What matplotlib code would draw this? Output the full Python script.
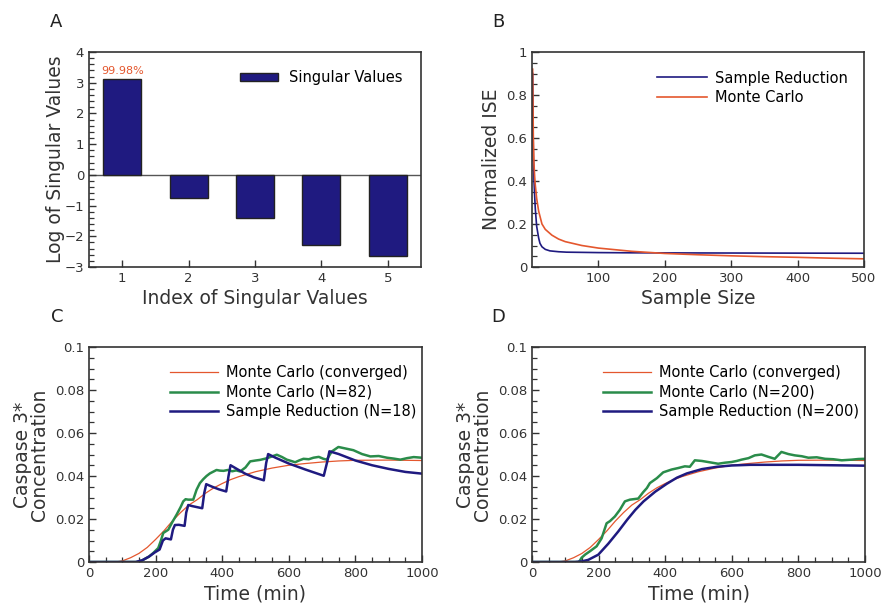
import matplotlib
matplotlib.use("Agg")
import matplotlib.pyplot as plt
from matplotlib.ticker import MultipleLocator, FixedLocator

plt.rcParams['font.family'] = ['DejaVu Sans']

NAVY = '#1f1a80'
ORANGE = '#e4572e'
GREEN = '#2a8c4a'
INK = '#333333'

# ---- Panel A: singular values ----
sv_index = [1, 2, 3, 4, 5]
sv_log = [3.13, -0.74, -1.42, -2.27, -2.63]
sv_note = '99.98%'

# ---- Panel B: normalized ISE vs sample size ----
sr_n = [1, 2, 3, 4, 5, 7, 10, 12, 15, 20, 27, 40, 52, 100, 150, 300, 500]
sr_ise = [0.90, 0.52, 0.40, 0.33, 0.27, 0.19, 0.135, 0.11, 0.094, 0.082, 0.075,
          0.071, 0.069, 0.067, 0.066, 0.065, 0.064]
mc_n = [1, 2, 3, 4, 5, 7, 10, 15, 20, 30, 40, 50, 75, 100, 150, 200, 250, 300,
        350, 400, 450, 500]
mc_ise = [0.92, 0.60, 0.48, 0.42, 0.38, 0.32, 0.26, 0.20, 0.175, 0.148, 0.13,
          0.118, 0.10, 0.088, 0.073, 0.063, 0.057, 0.052, 0.048, 0.045, 0.041, 0.038]

# ---- Panels C/D: caspase 3* concentration vs time ----
conv_t = [0, 80, 100, 125, 150, 175, 200, 225, 250, 275, 300, 325, 350, 375, 400,
          425, 450, 500, 550, 600, 650, 700, 750, 800, 900, 1000]
conv_c = [0, 0, 0.0005, 0.002, 0.004, 0.0068, 0.0105, 0.0145, 0.019, 0.023, 0.0265,
          0.029, 0.032, 0.0345, 0.0365, 0.0383, 0.0397, 0.042, 0.0437, 0.045, 0.0458,
          0.0465, 0.047, 0.0473, 0.0474, 0.0472]

mc82_t = [0, 143, 160, 180, 193, 208, 216, 223, 238, 250, 263, 275, 283, 290, 298,
          313, 323, 333, 343, 353, 363, 373, 383, 393, 404, 417, 430, 442, 454, 470,
          484, 500, 514, 530, 544, 564, 580, 594, 607, 619, 632, 644, 660, 674, 690,
          704, 714, 729, 749, 770, 794, 820, 845, 870, 895, 915, 935, 955, 975, 1000]
mc82_c = [0, 0, 0.0008, 0.0025, 0.0042, 0.0065, 0.0100, 0.0135, 0.015, 0.0185, 0.022,
          0.0255, 0.0282, 0.0292, 0.029, 0.029, 0.0336, 0.0367, 0.0385, 0.040, 0.0412,
          0.042, 0.0428, 0.0425, 0.0424, 0.0428, 0.0422, 0.0426, 0.0421, 0.044,
          0.0468, 0.0472, 0.0475, 0.0481, 0.0488, 0.0499, 0.0488, 0.0476, 0.047, 0.0464,
          0.0473, 0.048, 0.0478, 0.0485, 0.0489, 0.048, 0.0476, 0.0514, 0.0535, 0.0528,
          0.052, 0.0502, 0.0491, 0.0493, 0.0485, 0.0481, 0.0476, 0.0483, 0.0488, 0.0485]

sr18_t = [0, 140, 160, 180, 198, 212, 222, 230, 246, 252, 258, 270, 287, 292, 298,
          310, 340, 346, 352, 370, 390, 412, 419, 425, 445, 470, 495, 525, 532, 538,
          560, 600, 650, 705, 716, 722, 750, 800, 850, 900, 950, 1000]
sr18_c = [0, 0, 0.0008, 0.0025, 0.0045, 0.0058, 0.0100, 0.0110, 0.0105, 0.0150,
          0.0172, 0.0173, 0.0168, 0.0230, 0.0265, 0.0260, 0.0250, 0.0320, 0.0362,
          0.0350, 0.0338, 0.0328, 0.0400, 0.0450, 0.0432, 0.0410, 0.0394, 0.0380,
          0.0460, 0.0502, 0.0485, 0.0458, 0.0430, 0.0401, 0.0470, 0.0515, 0.0502,
          0.0472, 0.0450, 0.0433, 0.0419, 0.0411]

mc200_t = [0, 140, 144, 149, 160, 174, 194, 209, 224, 234, 249, 264, 279, 294, 319,
           334, 345, 354, 375, 394, 419, 439, 459, 474, 489, 510, 529, 559, 580, 599,
           615, 629, 650, 669, 689, 710, 729, 749, 770, 789, 810, 830, 855, 880, 905,
           930, 960, 980, 1000]
mc200_c = [0, 0, 0.0007, 0.002, 0.0035, 0.005, 0.0073, 0.011, 0.018, 0.019, 0.0212,
           0.0243, 0.0282, 0.029, 0.0295, 0.0325, 0.0344, 0.0367, 0.039, 0.0417, 0.043,
           0.0437, 0.0445, 0.0443, 0.0473, 0.047, 0.0465, 0.0457, 0.0462, 0.0465,
           0.047, 0.0476, 0.0483, 0.0496, 0.050, 0.0489, 0.048, 0.0512, 0.0502, 0.0496,
           0.0492, 0.0485, 0.0487, 0.048, 0.0478, 0.0473, 0.0476, 0.0479, 0.048]

sr200_t = [0, 129, 150, 169, 199, 229, 259, 286, 310, 335, 370, 405, 435, 465, 510,
           556, 600, 656, 800, 1000]
sr200_c = [0, 0, 0.0003, 0.001, 0.0034, 0.0085, 0.0142, 0.0197, 0.0242, 0.0282,
           0.0327, 0.0364, 0.0392, 0.0412, 0.0432, 0.0443, 0.0449, 0.0452, 0.0452,
           0.0448]

TICK_FS = 9.5
LABEL_FS = 13.5
LEG_FS = 10.5

fig = plt.figure(figsize=(8.82, 6.08), dpi=100)
W, H = 882, 608


def add_axes(px_left, px_top, px_w, px_h):
    return fig.add_axes([px_left / W, 1 - (px_top + px_h) / H, px_w / W, px_h / H])


def style(ax):
    for s in ax.spines.values():
        s.set_color(INK)
        s.set_linewidth(1.2)
    ax.tick_params(which='both', direction='in', top=False, right=False,
                   colors=INK, labelcolor=INK, labelsize=TICK_FS, width=1.0)
    ax.tick_params(which='major', length=5)
    ax.tick_params(which='minor', length=3.5, width=0.9)


axA = add_axes(89, 52, 332, 215)
axB = add_axes(532, 52, 332, 215)
axC = add_axes(89, 347, 333, 215)
axD = add_axes(532, 347, 333, 215)

# Panel A
style(axA)
axA.axhline(0, color='#555555', lw=1.0, zorder=1)
axA.bar(sv_index, sv_log, width=0.57, color=NAVY, edgecolor='#222222',
        linewidth=1.0, zorder=2, label='Singular Values')
axA.text(sv_index[0], sv_log[0] + 0.1, sv_note, color=ORANGE, fontsize=8,
         ha='center', va='bottom')
axA.set_xlim(0.5, 5.5)
axA.set_ylim(-3, 4)
axA.xaxis.set_major_locator(FixedLocator(sv_index))
axA.yaxis.set_major_locator(MultipleLocator(1))
axA.yaxis.set_minor_locator(MultipleLocator(0.2))
axA.set_xlabel('Index of Singular Values', fontsize=LABEL_FS, color=INK, labelpad=3)
axA.set_ylabel('Log of Singular Values', fontsize=LABEL_FS, color=INK, labelpad=0)
axA.legend(loc='upper right', frameon=False, fontsize=LEG_FS, handlelength=2.6,
           handleheight=0.45, handletextpad=0.8, bbox_to_anchor=(0.985, 0.975))

# Panel B
style(axB)
axB.plot(sr_n, sr_ise, color=NAVY, lw=1.2, label='Sample Reduction')
axB.plot(mc_n, mc_ise, color=ORANGE, lw=1.2, label='Monte Carlo')
axB.set_xlim(0, 500)
axB.set_ylim(0, 1)
axB.xaxis.set_major_locator(FixedLocator([100, 200, 300, 400, 500]))
axB.yaxis.set_minor_locator(MultipleLocator(0.05))
axB.set_yticks([0, 0.2, 0.4, 0.6, 0.8, 1.0])
axB.set_yticklabels(['0', '0.2', '0.4', '0.6', '0.8', '1'])
axB.set_xlabel('Sample Size', fontsize=LABEL_FS, color=INK, labelpad=3)
axB.set_ylabel('Normalized ISE', fontsize=LABEL_FS, color=INK, labelpad=4)
axB.legend(loc='upper right', frameon=False, fontsize=LEG_FS, handlelength=3.4,
           handletextpad=0.55, labelspacing=0.3, bbox_to_anchor=(0.99, 0.975))


def caspase_axes(ax, series):
    style(ax)
    for t, c, col, lw, lab in series:
        ax.plot(t, c, color=col, lw=lw, label=lab)
    ax.set_xlim(0, 1000)
    ax.set_ylim(0, 0.1)
    ax.xaxis.set_major_locator(MultipleLocator(200))
    ax.xaxis.set_minor_locator(MultipleLocator(50))
    ax.yaxis.set_minor_locator(MultipleLocator(0.005))
    ax.set_yticks([0, 0.02, 0.04, 0.06, 0.08, 0.1])
    ax.set_yticklabels(['0', '0.02', '0.04', '0.06', '0.08', '0.1'])
    ax.set_xlabel('Time (min)', fontsize=LABEL_FS, color=INK, labelpad=3)
    ax.set_ylabel('Caspase 3*\nConcentration', fontsize=LABEL_FS, color=INK,
                  labelpad=4, linespacing=0.9)
    ax.legend(loc='upper right', frameon=False, fontsize=LEG_FS, handlelength=3.3,
              handletextpad=0.55, labelspacing=0.3, bbox_to_anchor=(1.022, 0.975))


caspase_axes(axC, [
    (conv_t, conv_c, ORANGE, 0.9, 'Monte Carlo (converged)'),
    (mc82_t, mc82_c, GREEN, 1.8, 'Monte Carlo (N=82)'),
    (sr18_t, sr18_c, NAVY, 1.8, 'Sample Reduction (N=18)'),
])
caspase_axes(axD, [
    (conv_t, conv_c, ORANGE, 0.9, 'Monte Carlo (converged)'),
    (mc200_t, mc200_c, GREEN, 1.8, 'Monte Carlo (N=200)'),
    (sr200_t, sr200_c, NAVY, 1.8, 'Sample Reduction (N=200)'),
])

for lab, x, y in [('A', 56, 22), ('B', 498, 22), ('C', 57, 317), ('D', 498, 317)]:
    fig.text(x / W, 1 - y / H, lab, fontsize=13, color='#222222', ha='center', va='center')

fig.savefig('out.png', dpi=100)
